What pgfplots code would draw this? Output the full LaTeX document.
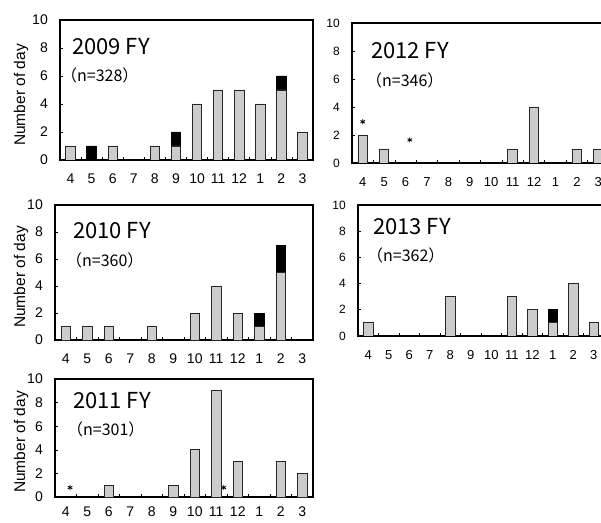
\documentclass[border=0pt]{standalone}
\usepackage{fontspec}
\setmainfont{Liberation Sans}
\newfontfamily\jp{Noto Sans CJK JP}
\usepackage{pgfplots}
\pgfplotsset{compat=1.18}
\pgfplotsset{
  panel/.style={
    scale only axis, anchor=south west,
    xmin=-0.5, xmax=11.5, ymin=0, ymax=10,
    xtick={0,...,11}, xticklabels={4,5,6,7,8,9,10,11,12,1,2,3},
    minor xtick={0.5,1.5,...,10.5},
    ytick={0,2,...,10},
    tick align=inside, xtick pos=bottom, ytick pos=left,
    major x tick style={draw=none},
    major tick length=3pt, minor tick length=3pt,
    axis line style={line width=1.2pt},
    tick style={line width=0.6pt, black},
    /pgf/number format/assume math mode=true,
    xticklabel style={inner sep=0pt},
    yticklabel style={inner sep=0pt},
    xticklabel shift=14pt, yticklabel shift=12pt,
    bar width=9.5pt,
  },
  leftp/.style={ticklabel style={font=\fontsize{14}{14}\selectfont}},
  rightp/.style={xticklabel style={font=\fontsize{13}{13}\selectfont},
                 yticklabel style={font=\fontsize{12}{12}\selectfont}},
  blk/.style={ybar, bar shift=0pt, fill=black, draw=black, line width=0.9pt},
  gry/.style={ybar, bar shift=0pt, fill=gray!40, draw=black!85, line width=0.9pt},
  ast/.style={only marks, mark=asterisk, mark size=2.6pt, black, mark options={line width=0.8pt}},
}
\begin{document}
\begin{tikzpicture}[x=1pt,y=1pt]
\path[use as bounding box] (0,0) rectangle (601,522);
\clip (0,0) rectangle (601,522);

% 2009
\begin{axis}[panel, leftp, at={(60pt,362pt)}, width=253pt, height=140pt]
\addplot[blk] coordinates {(1,1) (5,2) (10,6)};
\addplot[gry] coordinates {(0,1) (2,1) (4,1) (5,1) (6,4) (7,5) (8,5) (9,4) (10,5) (11,2)};
\end{axis}

% 2010
\begin{axis}[panel, leftp, at={(55pt,182pt)}, width=258pt, height=135pt]
\addplot[blk] coordinates {(9,2) (10,7)};
\addplot[gry] coordinates {(0,1) (1,1) (2,1) (4,1) (6,2) (7,4) (8,2) (9,1) (10,5)};
\end{axis}

% 2011
\begin{axis}[panel, leftp, at={(55pt,25pt)}, width=258pt, height=118pt, xticklabel shift=10pt]
\addplot[gry] coordinates {(2,1) (5,1) (6,4) (7,9) (8,3) (10,3) (11,2)};
\addplot[ast] coordinates {(0.2,0.8) (7.35,0.8)};
\end{axis}

% 2012
\begin{axis}[panel, rightp, at={(352pt,359pt)}, width=257pt, height=140pt]
\addplot[gry] coordinates {(0,2) (1,1) (7,1) (8,4) (10,1) (11,1)};
\addplot[ast] coordinates {(0,2.95) (2.2,1.65)};
\end{axis}

% 2013
\begin{axis}[panel, rightp, at={(358pt,186pt)}, width=246pt, height=131pt]
\addplot[blk] coordinates {(9,2)};
\addplot[gry] coordinates {(0,1) (4,3) (7,3) (8,2) (9,1) (10,4) (11,1)};
\end{axis}

% titles
\tikzset{ttl/.style={anchor=base west, inner sep=0pt, font=\jp\fontsize{22}{22}\selectfont},
         nn/.style={anchor=base west, inner sep=0pt, font=\jp\fontsize{16}{16}\selectfont},
         yl/.style={rotate=90, inner sep=0pt, font=\fontsize{15.5}{15.5}\selectfont}}
\node[ttl] at (72,467) {2009 FY};
\node[nn] at (61,440) {（n=328）};
\node[ttl] at (73,283) {2010 FY};
\node[nn] at (66,255) {（n=360）};
\node[ttl] at (73,114) {2011 FY};
\node[nn] at (67,87) {（n=301）};
\node[ttl] at (371,463) {2012 FY};
\node[nn] at (366,435) {（n=346）};
\node[ttl] at (373,287) {2013 FY};
\node[nn] at (367,260) {（n=362）};

\node[yl] at (21,427) {Number of day};
\node[yl] at (21,245) {Number of day};
\node[yl] at (21,80) {Number of day};
\end{tikzpicture}
\end{document}
